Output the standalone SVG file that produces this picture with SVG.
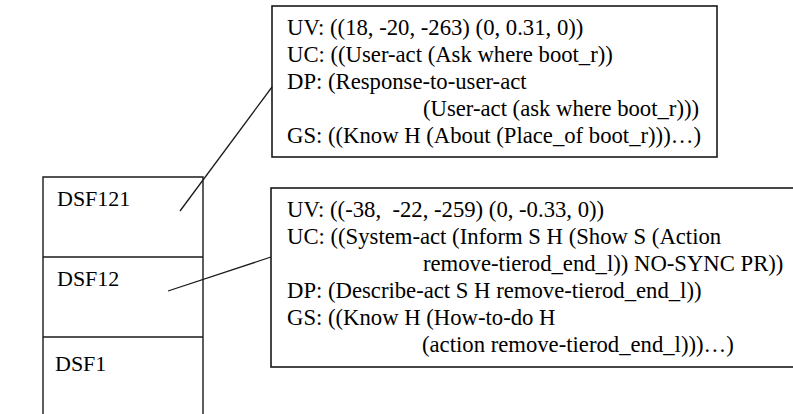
<svg xmlns="http://www.w3.org/2000/svg" width="793" height="414" viewBox="0 0 793 414">
  <style>
    .frame { fill: #ffffff; stroke: #1a1a1a; stroke-width: 1.4; }
    .box { fill: #ffffff; stroke: #1a1a1a; stroke-width: 1.6; }
    .link { stroke: #1a1a1a; stroke-width: 1.3; fill: none; }
    .t { font-family: 'Liberation Serif', 'DejaVu Serif', serif; font-size: 22.7px; fill: #000000; }
    .lbl { font-family: 'Liberation Serif', 'DejaVu Serif', serif; font-size: 22px; fill: #000000; }
  </style>
  <rect x="0" y="0" width="793" height="414" fill="#ffffff"/>

  <!-- stacked discourse frames -->
  <g id="stack">
    <path class="frame" d="M43,414 V177 H203 V414"/>
    <line class="frame" x1="43" y1="257" x2="203" y2="257"/>
    <line class="frame" x1="43" y1="337" x2="203" y2="337"/>
  </g>
  <g id="dsf121">
    <text class="lbl" x="57" y="206">DSF121</text>
  </g>
  <g id="dsf12">
    <text class="lbl" x="57" y="286">DSF12</text>
  </g>
  <g id="dsf1">
    <text class="lbl" x="55" y="371">DSF1</text>
  </g>

  <!-- frame contents -->
  <g id="content-dsf121">
    <rect class="box" x="272" y="6" width="445" height="151"/>
    <text class="t" x="287" y="35">UV: ((18, -20, -263) (0, 0.31, 0))</text>
    <text class="t" x="287" y="62">UC: ((User-act (Ask where boot_r))</text>
    <text class="t" x="287" y="89">DP: (Response-to-user-act</text>
    <text class="t" x="423" y="116">(User-act (ask where boot_r)))</text>
    <text class="t" x="287" y="143">GS: ((Know H (About (Place_of boot_r)))…)</text>
  </g>
  <g id="content-dsf12">
    <rect class="box" x="271" y="188" width="540" height="179"/>
    <text class="t" x="287" y="217" xml:space="preserve">UV: ((-38,  -22, -259) (0, -0.33, 0))</text>
    <text class="t" x="287" y="244">UC: ((System-act (Inform S H (Show S (Action</text>
    <text class="t" x="423" y="271">remove-tierod_end_l)) NO-SYNC PR))</text>
    <text class="t" x="287" y="298">DP: (Describe-act S H remove-tierod_end_l))</text>
    <text class="t" x="287" y="325">GS: ((Know H (How-to-do H</text>
    <text class="t" x="422" y="352">(action remove-tierod_end_l)))…)</text>
  </g>

  <!-- connectors -->
  <g id="connectors">
    <line class="link" x1="180" y1="211" x2="272" y2="87"/>
    <line class="link" x1="168" y1="291" x2="271" y2="257"/>
  </g>
</svg>
